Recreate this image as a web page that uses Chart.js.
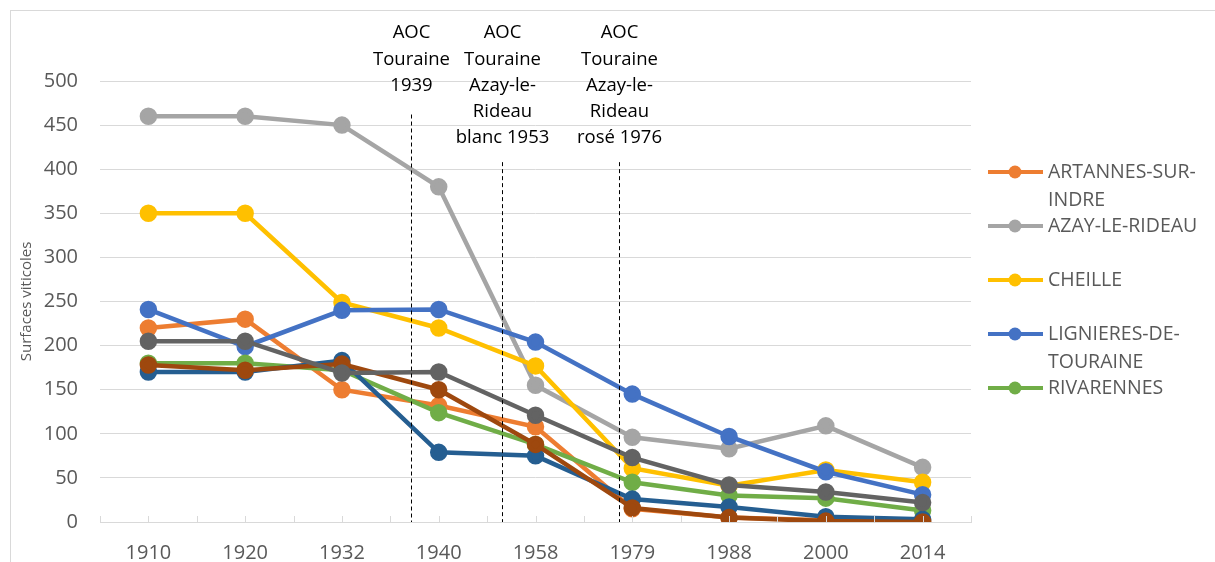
<!DOCTYPE html>
<html>
<head>
<meta charset="utf-8">
<script src="https://cdn.jsdelivr.net/npm/chart.js@4.4.1/dist/chart.umd.min.js"></script>
<style>
  html, body { margin: 0; padding: 0; background: #fff; }
  #wrap { position: relative; width: 1215px; height: 562px; }
</style>
</head>
<body>
<div id="wrap"><canvas id="chart" width="1215" height="562"></canvas></div>
<script>
// years on the x axis
const years = ["1910", "1920", "1932", "1940", "1958", "1979", "1988", "2000", "2014"];

// series
const artannes   = [220, 230, 150, 132, 108, 15, 5, 2, 0];
const azay       = [460, 460, 450, 380, 155, 96, 83, 109, 62];
const cheille    = [350, 350, 249, 220, 177, 61, 41, 59, 45];
const lignieres  = [241, 199, 240, 241, 204, 145, 97, 57, 31];
const rivarennes = [180, 180, 172, 124, 88, 45, 30, 27, 13];
const serie6     = [170, 170, 183, 79, 75, 26, 17, 6, 3];
const serie7     = [178, 172, 179, 150, 88, 16, 5, 1, 0];
const serie8     = [205, 205, 169, 170, 121, 73, 42, 34, 22];

const seriesNames = ["ARTANNES-SUR-INDRE", "AZAY-LE-RIDEAU", "CHEILLE", "LIGNIERES-DE-TOURAINE",
  "RIVARENNES", "Série 6", "Série 7", "Série 8"];
const seriesColors = ["#ED7D31", "#A5A5A5", "#FFC000", "#4472C4", "#70AD47", "#255E91", "#9E480E", "#636363"];
const legendCount = 5; // only first 5 fit in the legend

// AOC dates: position on the category axis (index), top of the dashed line, text
const aocPos = [2.713, 3.654, 4.863];
const aocTop = [462, 408, 408];
const aocText = [
  ["AOC", "Touraine", "1939"],
  ["AOC", "Touraine", "Azay-le-", "Rideau", "blanc 1953"],
  ["AOC", "Touraine", "Azay-le-", "Rideau", "rosé 1976"]
];

const allData = [artannes, azay, cheille, lignieres, rivarennes, serie6, serie7, serie8];
const FONT = "'Open Sans', sans-serif";

const datasets = allData.map((d, i) => ({
  label: seriesNames[i],
  data: d,
  borderColor: seriesColors[i],
  backgroundColor: seriesColors[i],
  pointBackgroundColor: seriesColors[i],
  pointBorderColor: seriesColors[i],
  borderWidth: 4.5,
  pointRadius: 6.5,
  pointHoverRadius: 6.5,
  tension: 0,
  order: allData.length - i // first series at the bottom
}));

// frame, dashed lines, inner tick marks, legend
const extras = {
  id: "extras",
  beforeDraw(chart) {
    const c = chart.ctx;
    c.save();
    c.strokeStyle = "#D9D9D9";
    c.lineWidth = 1;
    c.strokeRect(10.5, 10.5, 1215, 600);
    c.restore();
  },
  afterDatasetsDraw(chart) {
    const c = chart.ctx;
    const x = chart.scales.x, y = chart.scales.y;
    const bottom = chart.chartArea.bottom;

    // small tick marks pointing up
    c.save();
    c.strokeStyle = "#D9D9D9";
    c.lineWidth = 1;
    for (let i = -0.5; i <= years.length - 0.5; i += 0.5) {
      const px = Math.round(x.getPixelForValue(i)) + 0.5;
      c.beginPath();
      c.moveTo(px, bottom);
      c.lineTo(px, bottom - 6);
      c.stroke();
    }
    c.restore();

    // AOC dashed lines + labels
    c.save();
    aocPos.forEach((p, k) => {
      const px = Math.round(x.getPixelForValue(p)) + 0.5;
      c.strokeStyle = "#000";
      c.lineWidth = 1;
      c.setLineDash([4, 3]);
      c.beginPath();
      c.moveTo(px, y.getPixelForValue(aocTop[k]));
      c.lineTo(px, bottom);
      c.stroke();
      c.setLineDash([]);
      c.fillStyle = "#000";
      c.font = "18.5px " + FONT;
      c.textAlign = "center";
      c.textBaseline = "middle";
      aocText[k].forEach((t, j) => c.fillText(t, px, 33 + j * 26.3));
    });
    c.restore();

    // legend
    c.save();
    c.font = "19.5px " + FONT;
    c.textBaseline = "middle";
    c.textAlign = "left";
    const maxW = 165;
    for (let i = 0; i < legendCount; i++) {
      const ly = 172 + i * 54;
      c.strokeStyle = seriesColors[i];
      c.lineWidth = 4;
      c.beginPath();
      c.moveTo(988, ly);
      c.lineTo(1043, ly);
      c.stroke();
      c.fillStyle = seriesColors[i];
      c.beginPath();
      c.arc(1015, ly, 6.5, 0, Math.PI * 2);
      c.fill();
      // wrap after a hyphen when too wide
      let name = seriesNames[i];
      const lines = [];
      while (c.measureText(name).width > maxW && name.indexOf("-") >= 0) {
        let cut = -1;
        for (let j = 0; j < name.length; j++) {
          if (name[j] === "-" && c.measureText(name.slice(0, j + 1)).width <= maxW) cut = j;
        }
        if (cut < 0) break;
        lines.push(name.slice(0, cut + 1));
        name = name.slice(cut + 1);
      }
      lines.push(name);
      c.fillStyle = "#595959";
      lines.forEach((t, j) => c.fillText(t, 1048, ly + j * 28));
    }
    c.restore();
  }
};

new Chart(document.getElementById("chart"), {
  type: "line",
  data: { labels: years, datasets: datasets },
  options: {
    responsive: false,
    animation: false,
    layout: { padding: { left: 0, right: 244, top: 81, bottom: 0 } },
    plugins: {
      legend: { display: false },
      tooltip: { enabled: false }
    },
    scales: {
      x: {
        offset: true,
        grid: { display: false, drawTicks: false },
        border: { display: true, color: "#D9D9D9", width: 1 },
        ticks: { color: "#595959", font: { family: FONT, size: 20 }, padding: 19, maxRotation: 0 },
        afterFit: s => { s.height = 40; }
      },
      y: {
        min: 0,
        max: 500,
        grid: { color: "#D9D9D9", lineWidth: 1, drawTicks: false },
        border: { display: false },
        ticks: { stepSize: 50, color: "#595959", font: { family: FONT, size: 20 }, padding: 22 },
        title: {
          display: true,
          text: "Surfaces viticoles",
          color: "#595959",
          font: { family: FONT, size: 15 },
          padding: { top: 18, bottom: 0 }
        },
        afterFit: s => { s.width = 100; }
      }
    }
  },
  plugins: [extras]
});
</script>
</body>
</html>
